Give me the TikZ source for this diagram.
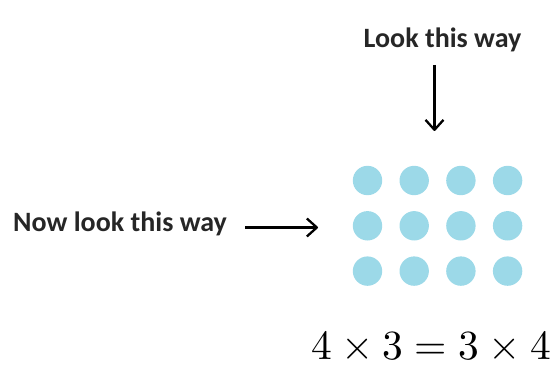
\documentclass[tikz,border=0pt]{standalone}
\usepackage{fontspec}
\usepackage{unicode-math}
\setmainfont{Carlito}
\setmathfont{Latin Modern Math}
\usetikzlibrary{arrows.meta}
\definecolor{dotblue}{RGB}{156,217,232}
\tikzset{
	dot/.style={circle, fill=dotblue, minimum size=29.4pt, inner sep=0pt},
	label text/.style={inner sep=0pt, font=\fontsize{28}{34}\selectfont\bfseries, text=black!85},
	look arrow/.style={line width=2.3pt, -{Straight Barb[length=10pt,width=18pt,line join=round]}}
}

\begin{document}
\begin{tikzpicture}[x=1pt, y=-1pt]
			%%%%% START %%%%%
			
			\useasboundingbox (0, 0) rectangle (559, 366);
			
			% the grid of dots
			\foreach \col in {0,...,3} {
				\foreach \row in {0,...,2} {
					\node[dot] (dot-\col-\row) at ({367.5 + 46.7*\col}, {180.5 + 45.3*\row}) {};
				}
			}
			
			\node[label text, anchor=base] (lookdown) at (442.5, 48) {Look this way};
			\coordinate (downstart) at (434.5, 65);
			\coordinate (downend) at (434.5, 131);
			\draw[look arrow] (downstart) -- (downend);
			
			\node[label text, anchor=base west] (lookacross) at (13, 231) {Now look this way};
			\coordinate (acrossstart) at (245, 227.5);
			\coordinate (acrossend) at (318, 227.5);
			\draw[look arrow] (acrossstart) -- (acrossend);
			
			\node[inner sep=0pt, text depth=0pt, anchor=base west, font=\fontsize{41.5}{48}\selectfont] (sum) at (311, 359) {$4\times3=3\times4$};
			
			%%%%% END %%%%%
\end{tikzpicture}
\end{document}
